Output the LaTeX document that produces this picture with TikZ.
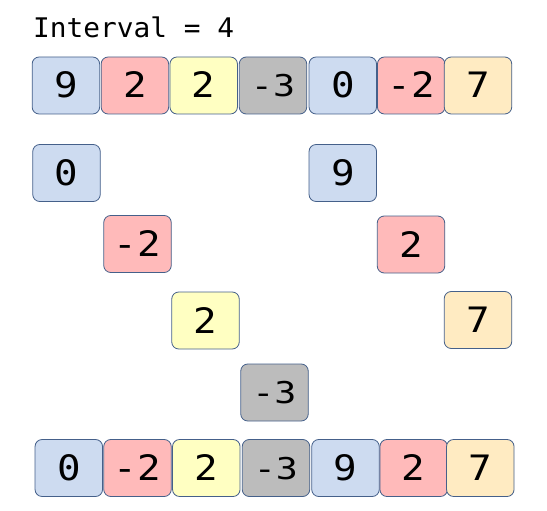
\documentclass[tikz,border=0pt]{standalone}
\usepackage{fontspec}
\newfontfamily\digitfont[FakeStretch=1.12]{DejaVu Sans Mono}
\newfontfamily\minusfont[FakeStretch=1.22]{DejaVu Sans Mono}
\newfontfamily\labelfont[FakeStretch=1.03]{DejaVu Sans Mono}
\definecolor{cblue}{HTML}{CDDBF0}
\definecolor{cpink}{HTML}{FFBABA}
\definecolor{cyell}{HTML}{FFFFC2}
\definecolor{cgray}{HTML}{BCBCBC}
\definecolor{cpeach}{HTML}{FFEBC2}
\definecolor{cedge}{HTML}{45608A}
\tikzset{
  cell/.style={draw=cedge, line width=0.8pt, rounded corners=7pt,
    minimum width=67.5pt, minimum height=57pt, inner sep=0pt,
    text height=25pt, text depth=0pt,
    font=\digitfont\fontsize{35}{35}\selectfont},
  small/.style={font=\minusfont\fontsize{30}{30}\selectfont, text height=22pt},
  bl/.style={cell, fill=cblue},
  pk/.style={cell, fill=cpink},
  ye/.style={cell, fill=cyell},
  gr/.style={cell, fill=cgray, small},
  pe/.style={cell, fill=cpeach},
}
\begin{document}
\begin{tikzpicture}[x=1pt, y=-1pt]
\useasboundingbox (0,0) rectangle (547,511);
\node[anchor=base west, inner sep=0pt, font=\labelfont\fontsize{27}{27}\selectfont] (title) at (33,38) {Interval = 4};
% top row
\node[bl] (t1) at (65.9,85.5) {9};
\node[pk] (t2) at (134.9,85.5) {2};
\node[ye] (t3) at (203.7,85.5) {2};
\node[gr] (t4) at (273,85.5) {-3};
\node[bl] (t5) at (342.8,85.5) {0};
\node[pk] (t6) at (411.2,85.5) {-2};
\node[pe] (t7) at (478,85.5) {7};
% middle
\node[bl] (m1) at (66.5,173) {0};
\node[bl] (m5) at (342.8,173) {9};
\node[pk] (m2) at (137.5,244) {-2};
\node[pk] (m6) at (411,244.5) {2};
\node[ye] (m3) at (205.5,320.5) {2};
\node[pe] (m7) at (478,320) {7};
\node[gr] (m4) at (274.5,392.5) {-3};
% bottom row
\node[bl] (b1) at (68.8,468) {0};
\node[pk] (b2) at (137.5,468) {-2};
\node[ye] (b3) at (206.3,468) {2};
\node[gr] (b4) at (276,468) {-3};
\node[bl] (b5) at (345.5,468) {9};
\node[pk] (b6) at (413.7,468) {2};
\node[pe] (b7) at (480.3,468) {7};
\end{tikzpicture}
\end{document}
